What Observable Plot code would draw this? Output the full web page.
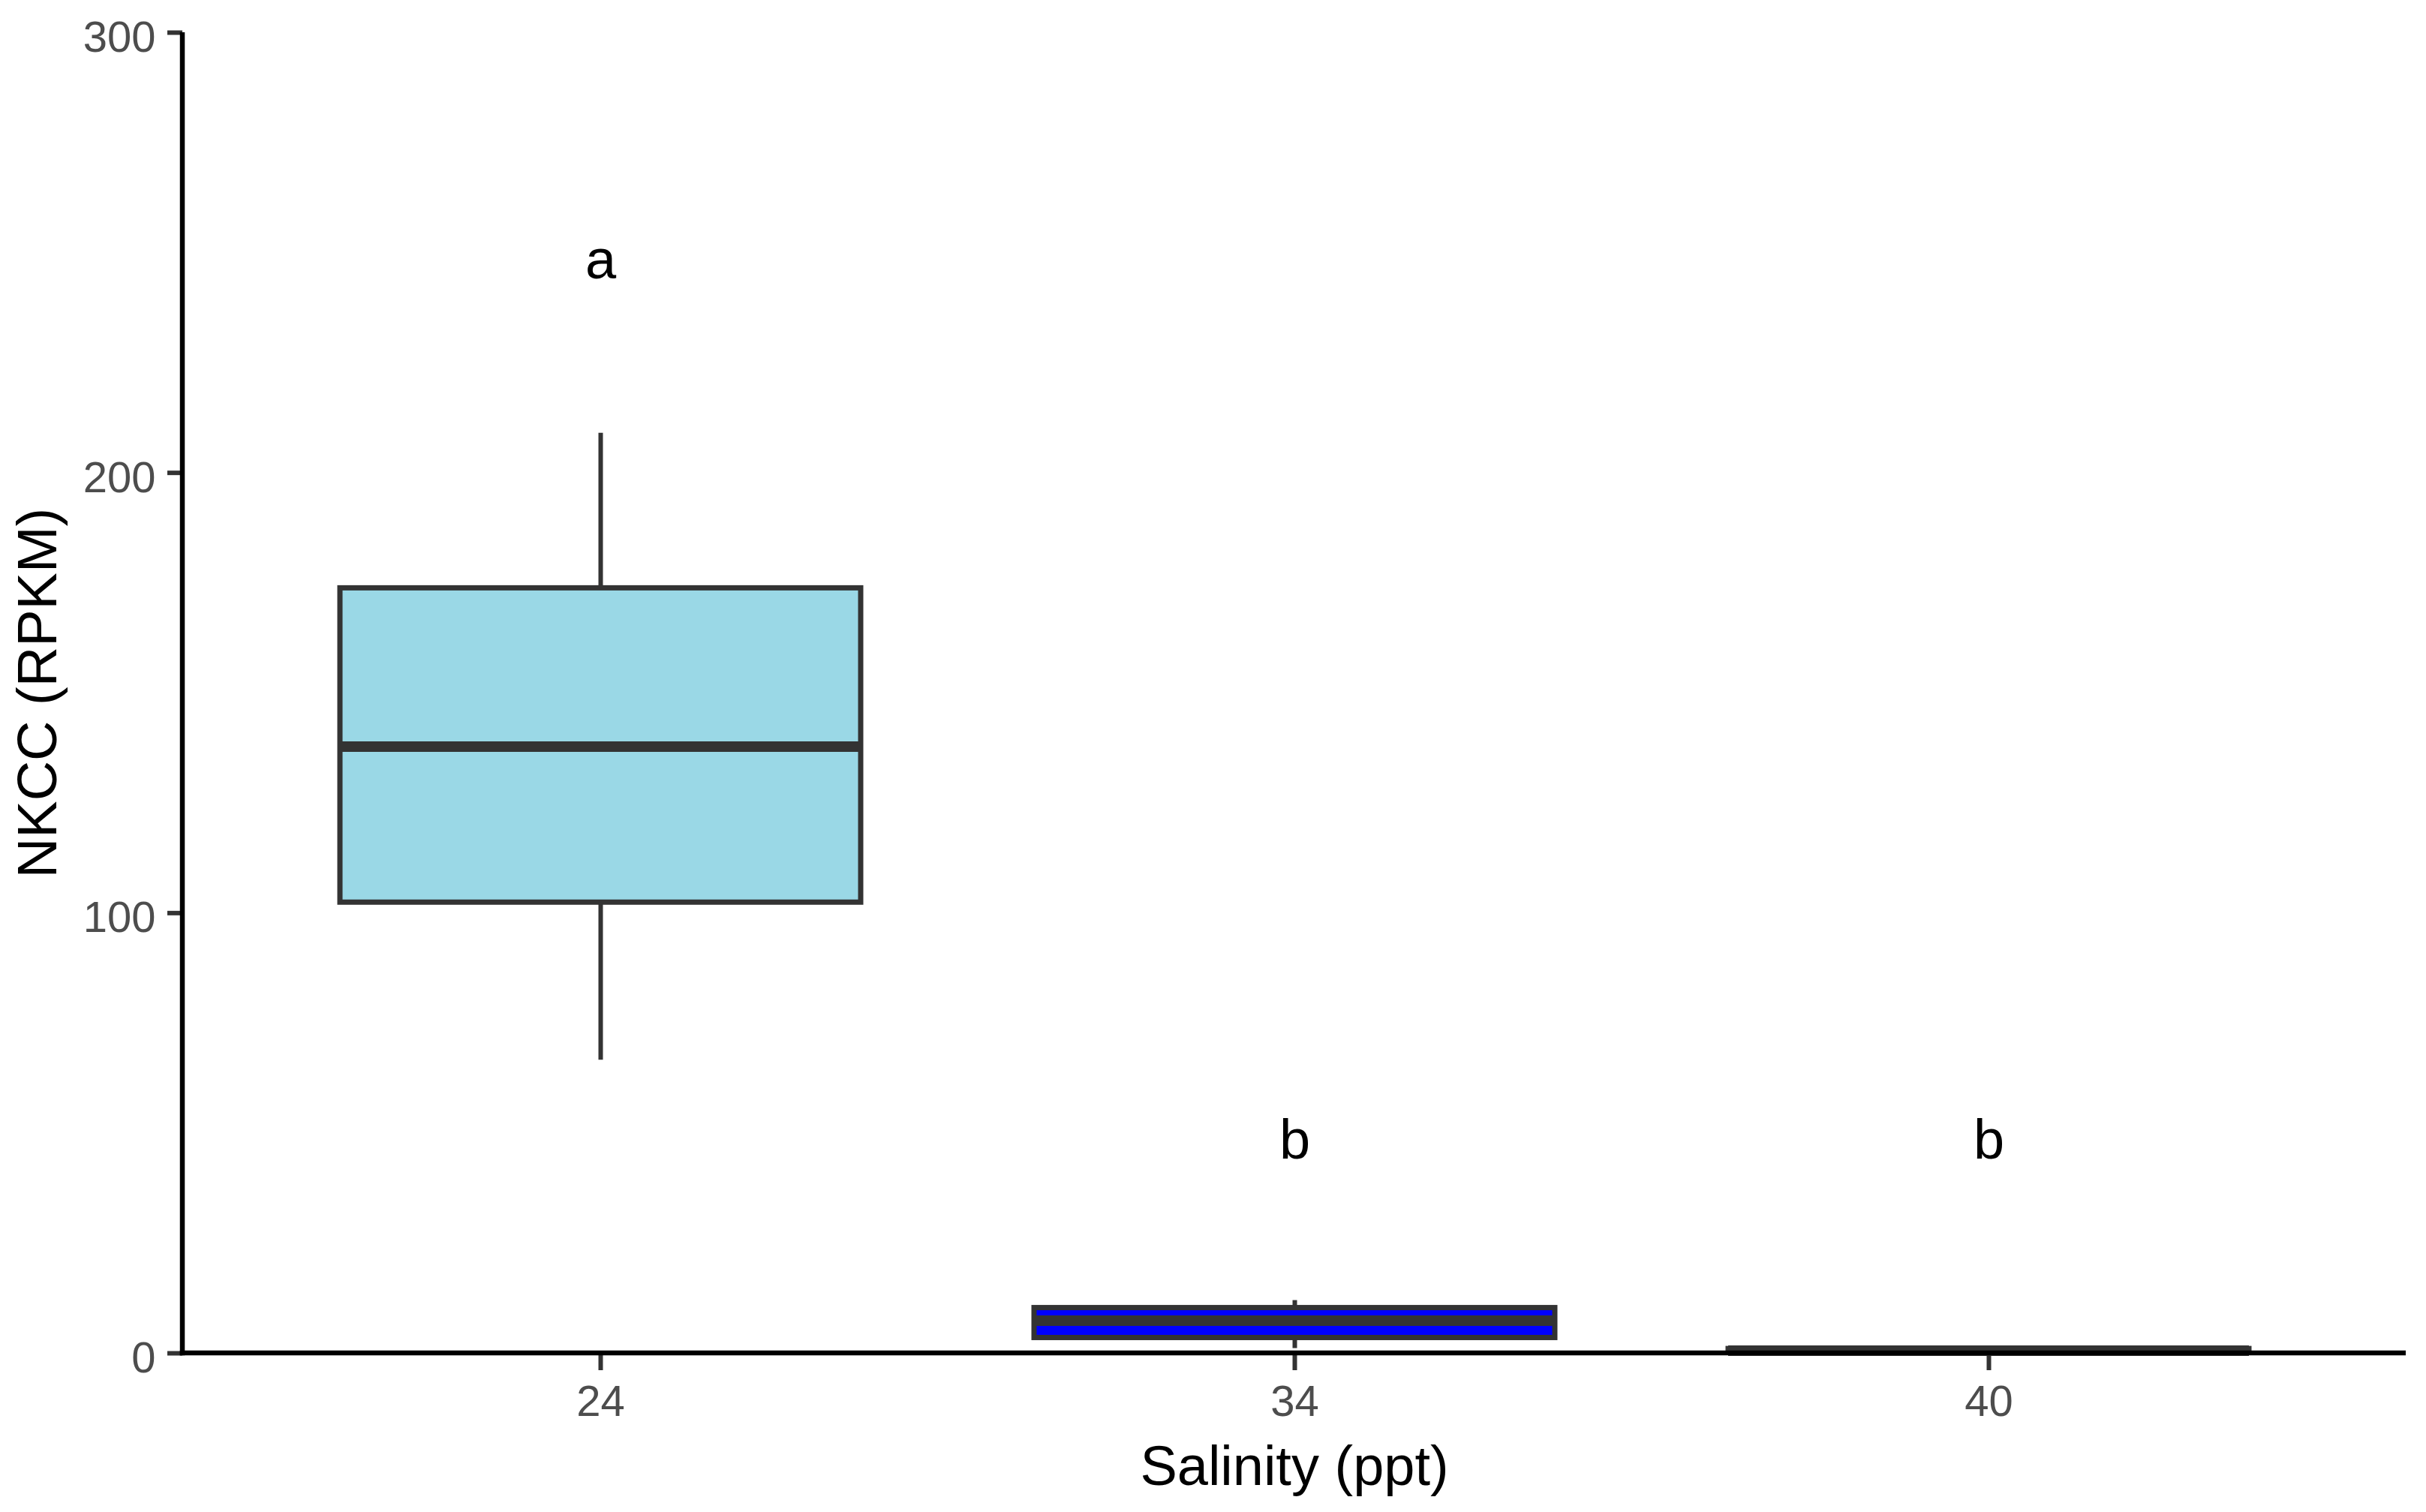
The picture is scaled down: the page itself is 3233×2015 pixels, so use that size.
<!DOCTYPE html>
<html>
<head>
<meta charset="utf-8">
<script src="https://cdn.jsdelivr.net/npm/d3@7"></script>
<script src="https://cdn.jsdelivr.net/npm/@observablehq/plot@0.6"></script>
<style>
  html, body { margin: 0; padding: 0; background: white; }
</style>
</head>
<body>
<div id="chart"></div>
<script>
// Data
const salinity      = ["24", "34", "40"];
const lowerWhisker  = [66.6, 1.1, 0.1];
const lowerQuartile = [102.4, 3.5, 0.3];
const medians       = [137.8, 7.4, 0.6];
const upperQuartile = [173.8, 10.3, 1.0];
const upperWhisker  = [209.0, 12.0, 1.3];
const fills         = ["#9AD8E6", "#0000FF", "#00008B"];
const letters       = ["a", "b", "b"];
const letterY       = [250, 50, 50];
const yTicks        = [0, 100, 200, 300];

const rows = salinity.map((s, i) => ({
  s, lw: lowerWhisker[i], q1: lowerQuartile[i], med: medians[i],
  q3: upperQuartile[i], uw: upperWhisker[i], fill: fills[i],
  letter: letters[i], ly: letterY[i]
}));

const font = "'Liberation Sans', Arial, Helvetica, sans-serif";

const axisLines = (index, scales, values, dims) => {
  const g = d3.create("svg:g");
  const left = dims.marginLeft;
  const right = dims.width - dims.marginRight;
  g.append("line")
    .attr("x1", left).attr("x2", left)
    .attr("y1", scales.y(300)).attr("y2", scales.y(0) + 3.25)
    .attr("stroke", "black").attr("stroke-width", 6.5);
  g.append("line")
    .attr("x1", left - 3.25).attr("x2", right)
    .attr("y1", scales.y(0)).attr("y2", scales.y(0))
    .attr("stroke", "black").attr("stroke-width", 6.5);
  return g.node();
};

const chart = Plot.plot({
  width: 3233,
  height: 2015,
  marginLeft: 243,
  marginRight: 27,
  marginTop: 43,
  marginBottom: 212,
  style: { fontFamily: font, background: "white" },
  x: { type: "band", domain: salinity, paddingInner: 0.25, paddingOuter: 0.225 },
  y: { domain: [0, 300] },
  marks: [
    Plot.ruleX(rows, { x: "s", y1: "lw", y2: "uw", stroke: "#333333", strokeWidth: 6 }),
    Plot.barY(rows, { x: "s", y1: "q1", y2: "q3", fill: "fill", stroke: "#333333", strokeWidth: 7 }),
    Plot.tickY(rows, { x: "s", y: "med", stroke: "#333333", strokeWidth: 14 }),
    Plot.text(rows, { x: "s", y: "ly", text: "letter", fontSize: 74, fill: "black", dy: 10 }),
    // y axis: ticks, then labels
    Plot.axisY({ ticks: yTicks, tickSize: 20, stroke: "#333333", strokeWidth: 6, fill: "none", label: null }),
    Plot.axisY({ ticks: yTicks, tickSize: 0, tickPadding: 36, fontSize: 58, fill: "#4D4D4D", dy: 7, label: null }),
    // x axis: ticks, then labels
    Plot.axisX({ tickSize: 23, stroke: "#333333", strokeWidth: 6, fill: "none", label: null }),
    Plot.axisX({ tickSize: 0, tickPadding: 42, fontSize: 58, fill: "#4D4D4D", label: null }),
    Plot.text(["Salinity (ppt)"], { frameAnchor: "bottom", lineAnchor: "top", dy: 123, fontSize: 74, fill: "black" }),
    Plot.text(["NKCC (RPKM)"], { frameAnchor: "left", textAnchor: "middle", dx: -192, rotate: -90, fontSize: 74, fill: "black" }),
    axisLines
  ]
});

document.getElementById("chart").appendChild(chart);
</script>
</body>
</html>
